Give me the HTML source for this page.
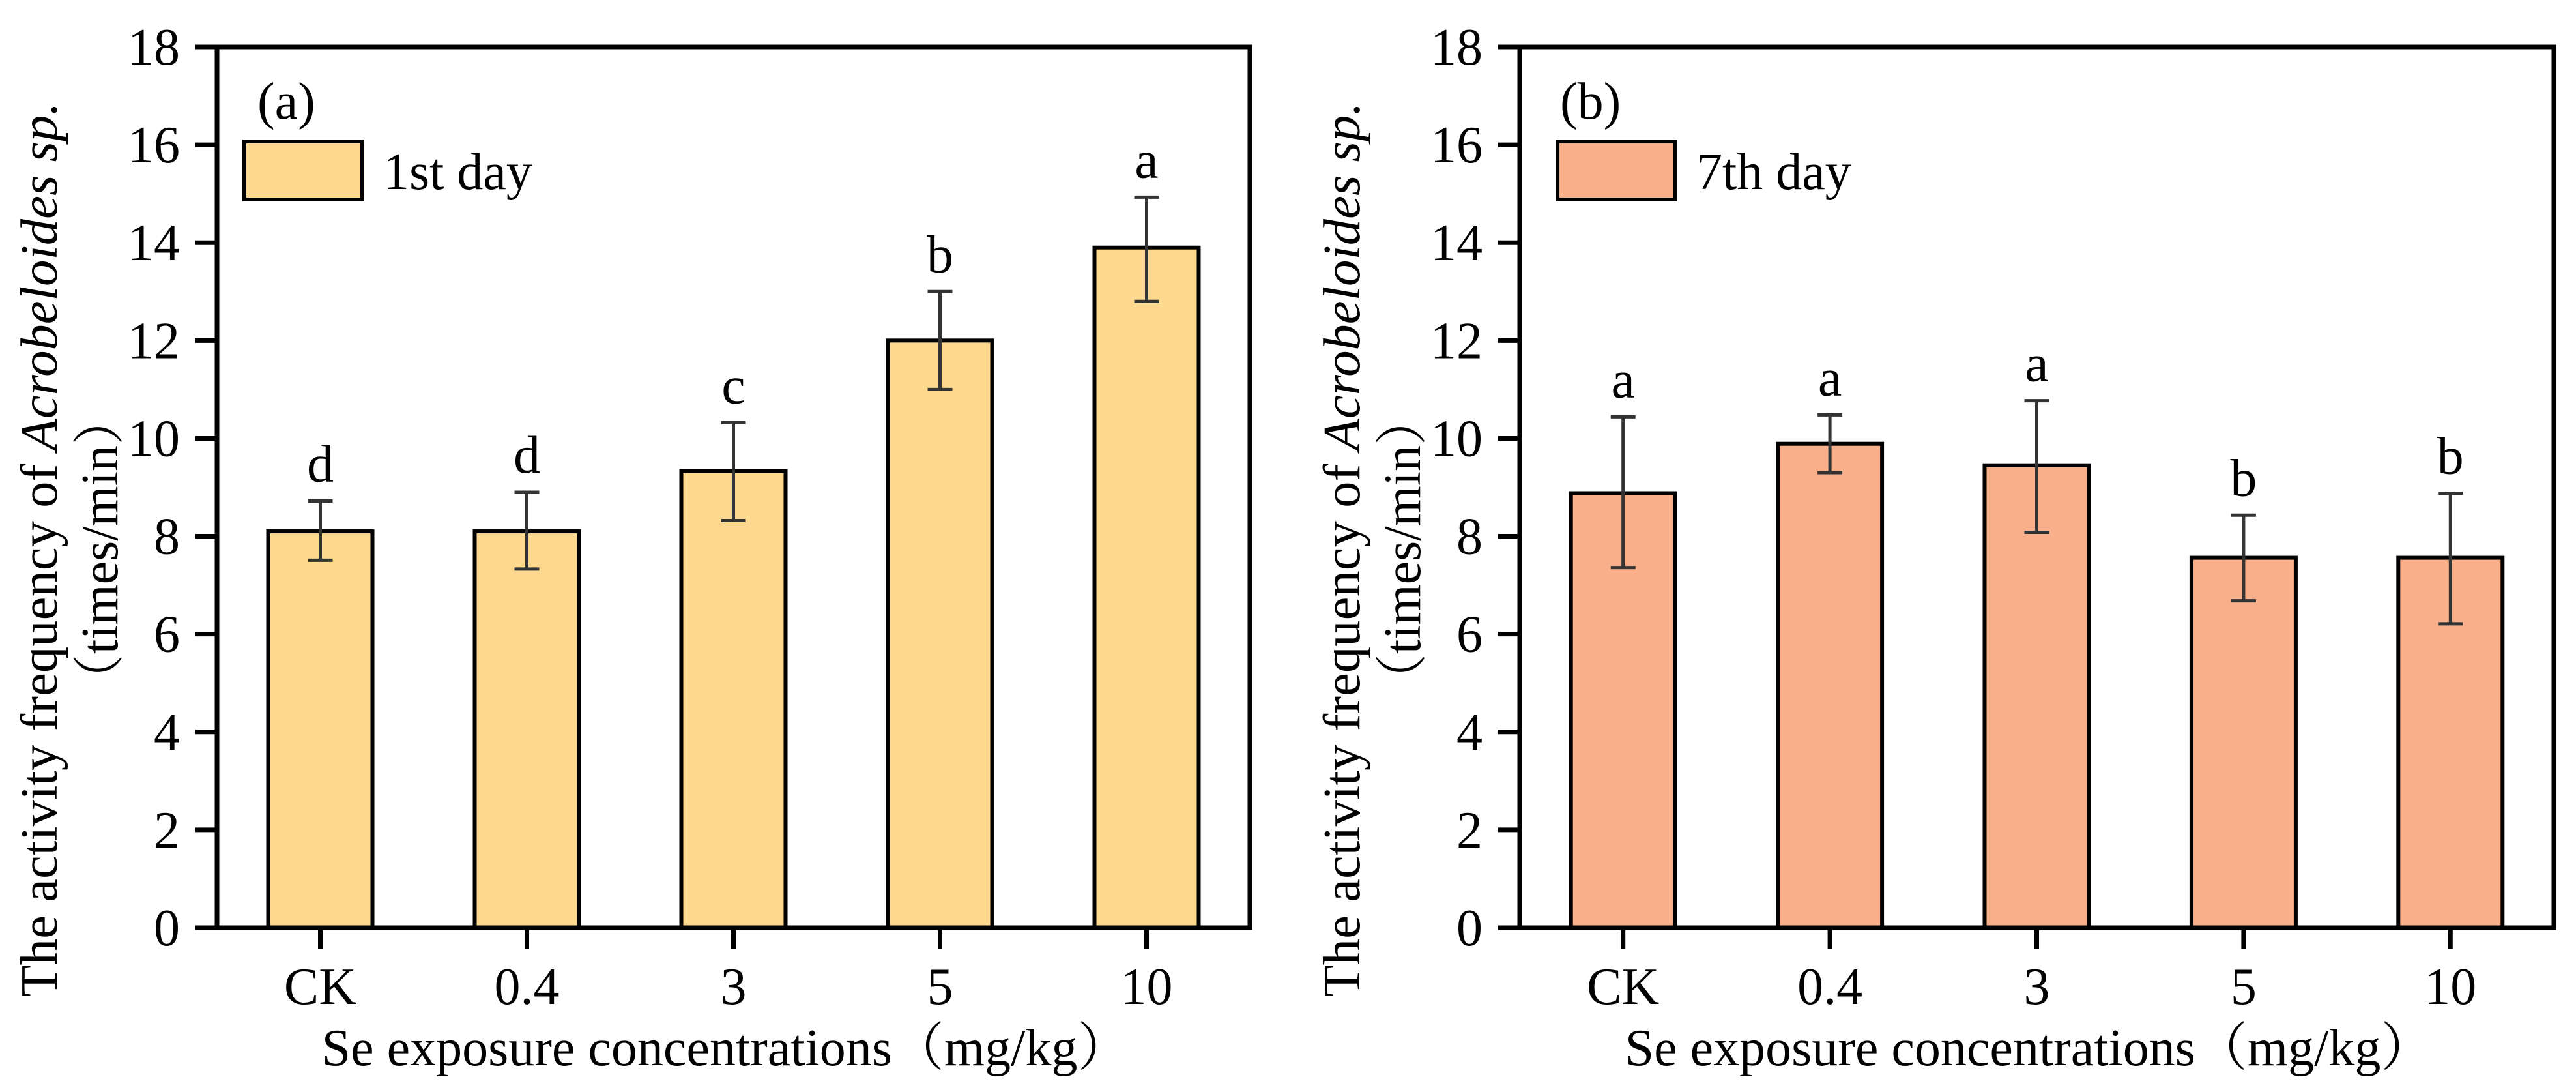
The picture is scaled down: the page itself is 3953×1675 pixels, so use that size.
<!DOCTYPE html>
<html><head><meta charset="utf-8"><style>
html,body{margin:0;padding:0;background:#fff;}
svg{display:block;font-family:"Liberation Serif","Noto Serif CJK SC",serif;}
</style></head><body>
<svg id="chart" width="3953" height="1675" viewBox="0 0 3953 1675" xmlns="http://www.w3.org/2000/svg"></svg>
<script>
const categories = ["CK","0.4","3","5","10"];
const yTicks = [0,2,4,6,8,10,12,14,16,18];
const day1Values = [8.1,8.1,9.33,12.0,13.9];
const day1ErrHi = [8.72,8.9,10.32,13.0,14.93];
const day1ErrLo = [7.51,7.33,8.32,11.0,12.8];
const day1Letters = ["d","d","c","b","a"];
const day7Values = [8.88,9.89,9.45,7.56,7.56];
const day7ErrHi = [10.44,10.48,10.77,8.43,8.88];
const day7ErrLo = [7.36,9.3,8.08,6.68,6.21];
const day7Letters = ["a","a","a","b","b"];

const NS="http://www.w3.org/2000/svg";
const svg=document.getElementById('chart');
function mk(tag,attrs,parent){const e=document.createElementNS(NS,tag);for(const k in attrs)e.setAttribute(k,attrs[k]);(parent||svg).appendChild(e);return e;}

function panel(opt){
  const L=opt.left,R=opt.right,T=72,B=1423;
  const g=mk('g',{});
  
  
  const y=v=>B-(v/18)*(B-T);
  const step=(R-L)/categories.length;
  const x=i=>L+(i+0.5)*step;
  const bw=160;
  opt.values.forEach((v,i)=>{
    const r=mk('rect',{x:x(i)-bw/2,y:y(v),width:bw,height:B-y(v),fill:opt.color,stroke:'#000','stroke-width':6},g);
    
    
  });
  opt.values.forEach((v,i)=>{
    const eg=mk('g',{stroke:'#333','stroke-width':5},g);
    
    
    mk('line',{x1:x(i),x2:x(i),y1:y(opt.hi[i]),y2:y(opt.lo[i])},eg);
    mk('line',{x1:x(i)-19,x2:x(i)+19,y1:y(opt.hi[i]),y2:y(opt.hi[i])},eg);
    mk('line',{x1:x(i)-19,x2:x(i)+19,y1:y(opt.lo[i]),y2:y(opt.lo[i])},eg);
    const t=mk('text',{x:x(i),y:y(opt.hi[i])-30,'text-anchor':'middle','font-size':82,fill:'#000'},g);
    t.textContent=opt.letters[i];
    
    
  });
  const fr=mk('rect',{x:L,y:T,width:R-L,height:B-T,fill:'none',stroke:'#000','stroke-width':7},g);
  
  
  yTicks.forEach(v=>{
    mk('line',{x1:L-33,x2:L,y1:y(v),y2:y(v),stroke:'#000','stroke-width':7},g);
    const t=mk('text',{x:L-57,y:y(v)+27,'text-anchor':'end','font-size':80,fill:'#000'},g);
    t.textContent=v;
    
    
  });
  categories.forEach((c,i)=>{
    mk('line',{x1:x(i),x2:x(i),y1:B,y2:B+33,stroke:'#000','stroke-width':7},g);
    const t=mk('text',{x:x(i),y:1540,'text-anchor':'middle','font-size':80,fill:'#000'},g);
    t.textContent=c;
    
    
  });
  const xt=mk('text',{x:(L+R)/2-12,y:1634,'text-anchor':'middle','font-size':80,fill:'#000'},g);
  xt.textContent='Se exposure concentrations（mg/kg）';
  
  
  const cy=843, ox=L-333;
  const yt=mk('text',{transform:`translate(${87+ox},${cy}) rotate(-90)`,'text-anchor':'middle','font-size':80,fill:'#000',textLength:1373,lengthAdjust:'spacingAndGlyphs'},g);
  
  
  const s1=mk('tspan',{},yt); s1.textContent='The activity frequency of ';
  const s2=mk('tspan',{'font-style':'italic'},yt); s2.textContent='Acrobeloides sp.';
  const yt2=mk('text',{transform:`translate(${180+ox},${cy}) rotate(-90)`,'text-anchor':'middle','font-size':80,fill:'#000'},g);
  yt2.textContent='（times/min）';
  
  
  const pl=mk('text',{x:L+62,y:182,'font-size':80,fill:'#000'},g);
  pl.textContent=opt.label;
  
  
  const lg=mk('g',{},g);
  
  
  mk('rect',{x:L+opt.lgx,y:217,width:181,height:89,fill:opt.color,stroke:'#000','stroke-width':6},lg);
  const lt=mk('text',{x:L+opt.lgx+213,y:290,'font-size':80,fill:'#000'},lg);
  lt.textContent=opt.legend;
}

panel({name:'panel-a-1st-day',left:333,right:1918,values:day1Values,hi:day1ErrHi,lo:day1ErrLo,letters:day1Letters,color:'#FDD88F',label:'(a)',legend:'1st day',lgx:42});
panel({name:'panel-b-7th-day',left:2332,right:3919,values:day7Values,hi:day7ErrHi,lo:day7ErrLo,letters:day7Letters,color:'#F9B08A',label:'(b)',legend:'7th day',lgx:58});
</script>
</body></html>
